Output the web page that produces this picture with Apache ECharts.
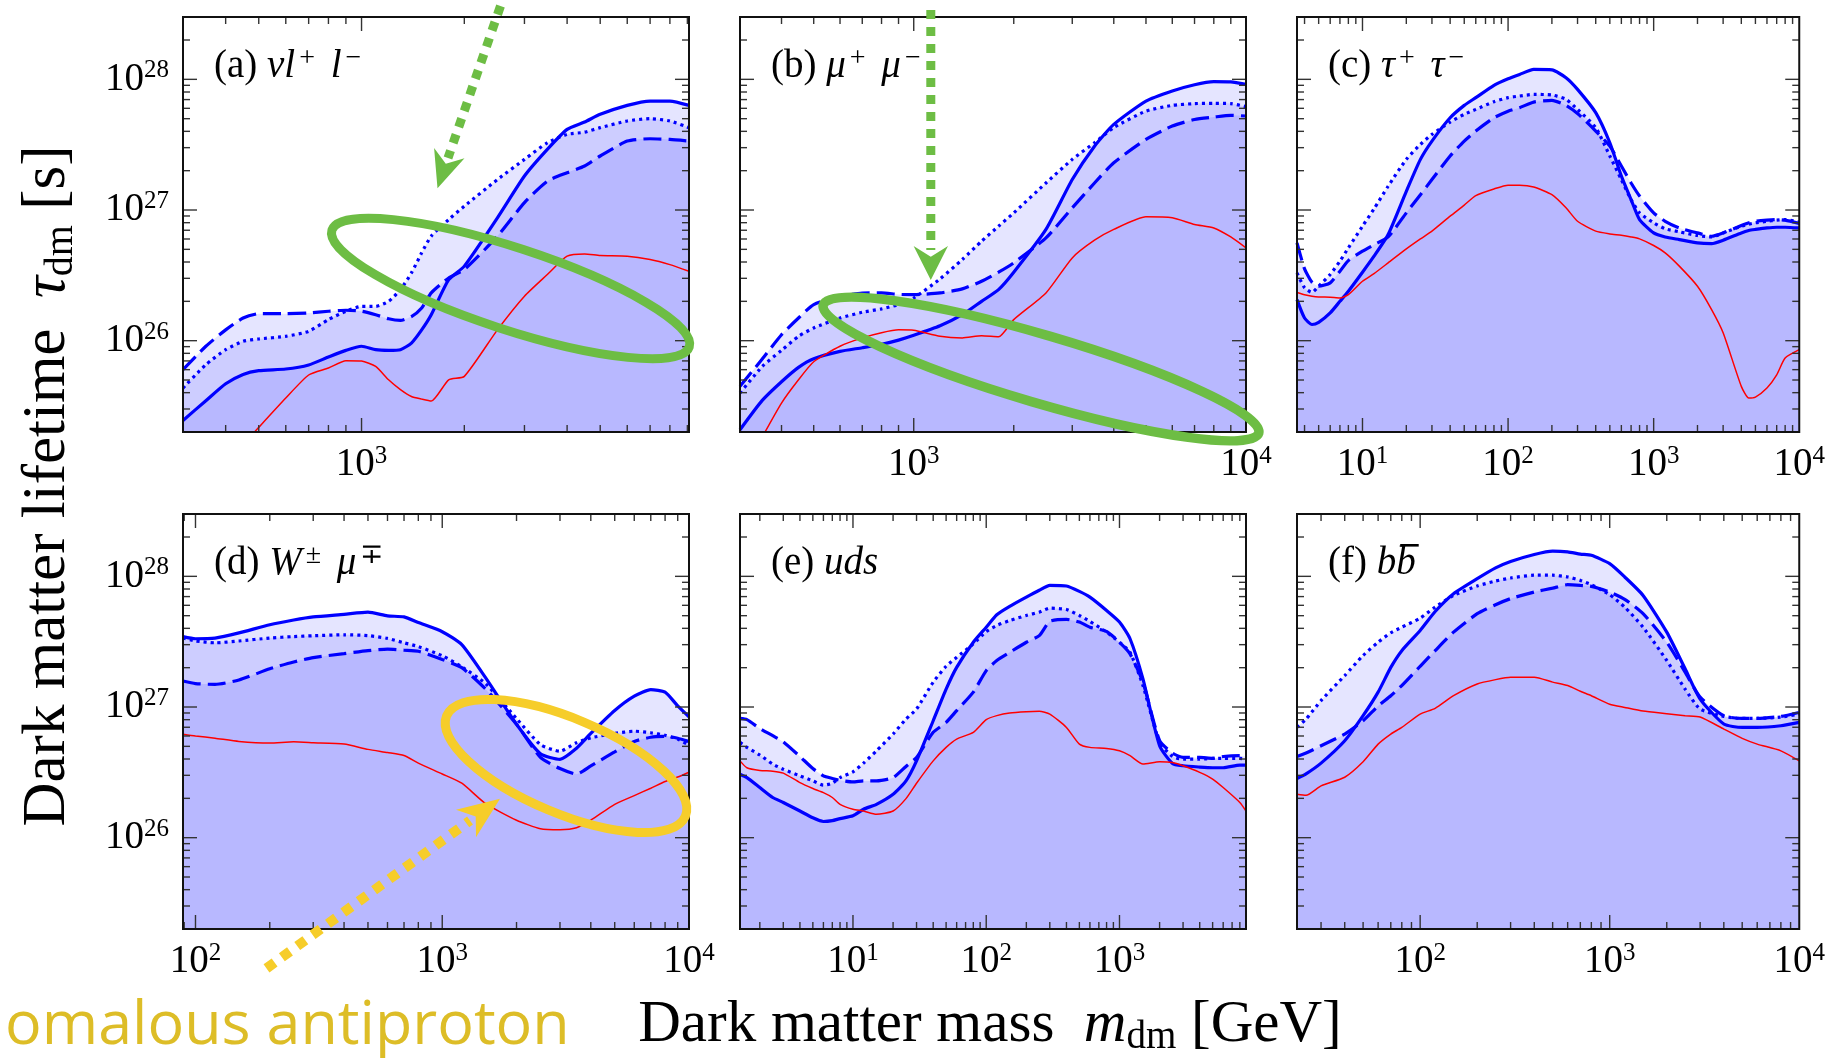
<!DOCTYPE html>
<html>
<head>
<meta charset="utf-8">
<title>Dark matter lifetime limits</title>
<script src="https://cdn.jsdelivr.net/npm/echarts@6.0.0/dist/echarts.min.js"></script>
<style>
html, body { margin: 0; padding: 0; background: #ffffff; }
#chart { width: 1828px; height: 1058px; }
</style>
</head>
<body>
<div id="chart"></div>
<script>
// Lower limits on the dark matter lifetime [s] versus dark matter mass [GeV].
// solid / dotted / dashed: three propagation set-ups, red: reference bound.

// (a) nu l+ l-
const massA   = [300, 350, 400, 450, 500, 600, 700, 800, 900, 1000, 1100, 1200, 1300, 1400, 1500, 1600, 1800, 2000, 2500, 3000, 3500, 4000, 4500, 5000, 6000, 7000, 8000, 9100];
const solidA  = [2.45e25, 3.47e25, 4.68e25, 5.52e25, 5.89e25, 6.07e25, 6.52e25, 7.50e25, 8.43e25, 9.06e25, 8.53e25, 8.43e25, 8.53e25, 9.59e25, 1.21e26, 1.58e26, 2.93e26, 3.72e26, 8.71e26, 1.82e27, 2.91e27, 4.14e27, 4.71e27, 5.40e27, 6.32e27, 6.82e27, 6.82e27, 6.32e27];
const dottedA = [4.34e25, 6.55e25, 8.53e25, 9.89e25, 1.03e26, 1.08e26, 1.18e26, 1.45e26, 1.68e26, 1.83e26, 1.83e26, 2.00e26, 2.46e26, 3.30e26, 4.70e26, 6.31e26, 8.45e26, 1.07e27, 1.71e27, 2.44e27, 3.27e27, 3.79e27, 3.94e27, 4.27e27, 4.80e27, 5.00e27, 4.80e27, 4.27e27];
const dashedA = [6.00e25, 9.06e25, 1.21e26, 1.49e26, 1.61e26, 1.61e26, 1.63e26, 1.68e26, 1.71e26, 1.68e26, 1.58e26, 1.47e26, 1.43e26, 1.53e26, 1.78e26, 2.32e26, 3.02e26, 3.50e26, 6.30e26, 1.14e27, 1.66e27, 1.93e27, 2.17e27, 2.59e27, 3.37e27, 3.51e27, 3.47e27, 3.37e27];
const redA    = [null, null, null, 1.60e25, 2.17e25, 3.64e25, 5.46e25, 6.17e25, 7.03e25, 6.98e25, 6.35e25, 5.02e25, 4.22e25, 3.74e25, 3.57e25, 3.45e25, 5.02e25, 5.33e25, 1.21e26, 2.19e26, 3.21e26, 4.43e26, 4.61e26, 4.48e26, 4.43e26, 4.18e26, 3.82e26, 3.40e26];

// (b) mu+ mu-
const massB   = [300, 350, 400, 450, 500, 600, 700, 800, 900, 1000, 1200, 1400, 1600, 1800, 2000, 2500, 3000, 3500, 4000, 5000, 6000, 7000, 8000, 9000, 10000];
const solidB  = [2.08e25, 3.49e25, 4.85e25, 6.25e25, 7.28e25, 8.28e25, 8.83e25, 9.38e25, 1.01e26, 1.10e26, 1.30e26, 1.58e26, 2.00e26, 2.46e26, 3.34e26, 7.10e26, 1.71e27, 3.08e27, 4.52e27, 6.82e27, 8.15e27, 9.10e27, 9.60e27, 9.55e27, 9.16e27];
const dottedB = [3.97e25, 6.35e25, 8.43e25, 1.08e26, 1.25e26, 1.49e26, 1.65e26, 1.75e26, 1.89e26, 2.12e26, 2.97e26, 4.18e26, 5.77e26, 7.52e26, 9.51e26, 1.61e27, 2.44e27, 3.27e27, 4.27e27, 5.71e27, 6.32e27, 6.52e27, 6.55e27, 6.52e27, 6.18e27];
const dashedB = [4.47e25, 7.24e25, 1.11e26, 1.49e26, 1.89e26, 2.19e26, 2.31e26, 2.32e26, 2.26e26, 2.25e26, 2.32e26, 2.49e26, 2.85e26, 3.34e26, 3.94e26, 6.12e26, 1.04e27, 1.61e27, 2.30e27, 3.47e27, 4.39e27, 4.93e27, 5.14e27, 5.30e27, 5.24e27];
const redB    = [null, 1.83e25, 3.33e25, 5.02e25, 6.90e25, 9.06e25, 1.05e26, 1.15e26, 1.21e26, 1.20e26, 1.08e26, 1.05e26, 1.09e26, 1.07e26, 1.45e26, 2.32e26, 4.30e26, 5.87e26, 7.10e26, 8.87e26, 8.71e26, 7.74e26, 7.29e26, 6.22e26, 5.13e26];

// (c) tau+ tau-
const massC   = [3.55, 4, 4.5, 5, 6, 7, 8, 10, 12, 15, 20, 25, 30, 40, 50, 60, 80, 100, 120, 150, 200, 250, 300, 400, 500, 600, 700, 800, 1000, 1200, 1500, 2000, 2500, 3000, 4000, 4500, 5000, 6000, 7000, 8000, 10000];
const solidC  = [2.06e26, 1.49e26, 1.33e26, 1.38e26, 1.63e26, 2.00e26, 2.39e26, 3.34e26, 4.43e26, 6.49e26, 1.39e27, 2.44e27, 3.37e27, 5.08e27, 6.32e27, 7.24e27, 9.00e27, 1.01e28, 1.09e28, 1.19e28, 1.18e28, 1.03e28, 8.38e27, 5.56e27, 3.27e27, 1.82e27, 1.20e27, 8.45e26, 6.68e26, 6.22e26, 5.94e26, 5.60e26, 5.53e26, 5.87e26, 6.68e26, 6.97e26, 7.10e26, 7.29e26, 7.38e26, 7.38e26, 7.29e26];
const dottedC = [3.30e26, 2.54e26, 2.34e26, 2.61e26, 3.21e26, 4.06e26, 5.13e26, 7.52e26, 1.02e27, 1.52e27, 2.44e27, 3.18e27, 3.79e27, 4.71e27, 5.40e27, 5.89e27, 6.75e27, 7.24e27, 7.45e27, 7.67e27, 7.59e27, 7.03e27, 5.89e27, 4.27e27, 2.59e27, 1.71e27, 1.20e27, 9.51e26, 7.98e26, 7.18e26, 6.81e26, 6.38e26, 6.22e26, 6.68e26, 7.52e26, 7.78e26, 7.98e26, 8.20e26, 8.36e26, 8.45e26, 8.07e26];
const dashedC = [5.60e26, 3.54e26, 2.80e26, 2.61e26, 2.77e26, 3.40e26, 4.10e26, 4.84e26, 5.42e26, 6.22e26, 9.51e26, 1.31e27, 1.71e27, 2.59e27, 3.37e27, 4.02e27, 5.08e27, 5.71e27, 6.07e27, 6.70e27, 6.90e27, 6.32e27, 5.48e27, 4.02e27, 3.08e27, 2.17e27, 1.61e27, 1.28e27, 9.51e26, 8.20e26, 7.29e26, 6.68e26, 6.30e26, 6.68e26, 7.60e26, 7.98e26, 8.20e26, 8.36e26, 8.45e26, 8.36e26, 7.89e26];
const redC    = [2.34e26, 2.25e26, 2.19e26, 2.16e26, 2.15e26, 2.12e26, 2.25e26, 2.85e26, 3.26e26, 3.94e26, 5.04e26, 6.01e26, 6.89e26, 8.97e26, 1.09e27, 1.29e27, 1.45e27, 1.55e27, 1.55e27, 1.50e27, 1.31e27, 1.04e27, 8.20e26, 6.89e26, 6.56e26, 6.41e26, 6.22e26, 6.01e26, 5.35e26, 4.70e26, 3.72e26, 2.61e26, 1.73e26, 1.15e26, 4.47e25, 3.64e25, 3.70e25, 4.34e25, 5.48e25, 7.36e25, 8.53e25];

// (d) W+- mu-+
const massD   = [89, 100, 120, 150, 200, 250, 300, 400, 500, 600, 700, 800, 1000, 1200, 1500, 2000, 2500, 3000, 3500, 4000, 5000, 6000, 7000, 8000, 9000, 10000];
const solidD  = [3.46e27, 3.33e27, 3.37e27, 3.69e27, 4.26e27, 4.63e27, 4.89e27, 5.12e27, 5.32e27, 4.98e27, 4.89e27, 4.43e27, 3.77e27, 3.00e27, 1.67e27, 7.38e26, 4.39e26, 3.98e26, 4.84e26, 6.28e26, 9.40e26, 1.21e27, 1.36e27, 1.30e27, 1.02e27, 8.41e26];
const dottedD = [3.37e27, 3.20e27, 3.10e27, 3.20e27, 3.37e27, 3.46e27, 3.51e27, 3.57e27, 3.52e27, 3.35e27, 3.10e27, 2.90e27, 2.47e27, 2.03e27, 1.51e27, 8.15e26, 5.16e26, 4.59e26, 5.33e26, 5.81e26, 6.28e26, 6.53e26, 6.35e26, 6.08e26, 5.69e26, 5.09e26];
const dashedD = [1.58e27, 1.51e27, 1.49e27, 1.61e27, 1.96e27, 2.21e27, 2.39e27, 2.56e27, 2.70e27, 2.77e27, 2.72e27, 2.67e27, 2.31e27, 2.00e27, 1.37e27, 7.38e26, 4.11e26, 3.38e26, 3.07e26, 3.54e26, 4.53e26, 5.45e26, 5.87e26, 5.96e26, 5.77e26, 5.45e26];
const redD    = [6.19e26, 6.00e26, 5.77e26, 5.45e26, 5.30e26, 5.41e26, 5.33e26, 5.20e26, 4.74e26, 4.48e26, 4.25e26, 3.72e26, 3.07e26, 2.61e26, 1.82e26, 1.36e26, 1.17e26, 1.15e26, 1.19e26, 1.36e26, 1.80e26, 2.10e26, 2.39e26, 2.69e26, 2.91e26, 3.17e26];

// (e) uds
const massE   = [1.42, 1.6, 2, 2.5, 3, 4, 5, 6, 7, 8, 10, 12, 15, 20, 25, 30, 40, 50, 60, 80, 100, 120, 150, 200, 250, 300, 400, 500, 600, 800, 1000, 1200, 1500, 2000, 2500, 3000, 4000, 5000, 6000, 8000, 8900];
const solidE  = [3.06e26, 2.88e26, 2.42e26, 2.03e26, 1.86e26, 1.60e26, 1.42e26, 1.33e26, 1.35e26, 1.40e26, 1.47e26, 1.65e26, 1.80e26, 2.15e26, 2.72e26, 3.87e26, 7.85e26, 1.37e27, 2.01e27, 3.13e27, 4.08e27, 5.08e27, 5.89e27, 6.93e27, 7.82e27, 8.53e27, 8.43e27, 7.67e27, 6.93e27, 5.48e27, 4.47e27, 3.33e27, 1.64e27, 5.05e26, 3.70e26, 3.55e26, 3.47e26, 3.43e26, 3.43e26, 3.59e26, 3.59e26];
const dottedE = [5.36e26, 4.91e26, 4.29e26, 3.66e26, 3.34e26, 2.97e26, 2.72e26, 2.52e26, 2.61e26, 2.88e26, 3.19e26, 3.72e26, 4.62e26, 6.21e26, 8.09e26, 9.66e26, 1.55e27, 2.05e27, 2.40e27, 3.04e27, 3.78e27, 4.21e27, 4.59e27, 5.02e27, 5.32e27, 5.71e27, 5.58e27, 5.02e27, 4.52e27, 3.74e27, 3.13e27, 2.62e27, 1.46e27, 5.36e26, 4.18e26, 3.99e26, 3.99e26, 4.04e26, 4.04e26, 4.04e26, 3.99e26];
const dashedE = [8.18e26, 8.00e26, 6.86e26, 6.03e26, 5.42e26, 4.18e26, 3.38e26, 2.97e26, 2.84e26, 2.75e26, 2.67e26, 2.72e26, 2.72e26, 2.88e26, 3.51e26, 4.11e26, 6.40e26, 7.62e26, 9.38e26, 1.30e27, 1.90e27, 2.27e27, 2.62e27, 3.13e27, 3.52e27, 4.52e27, 4.68e27, 4.47e27, 4.08e27, 3.78e27, 3.13e27, 2.55e27, 1.55e27, 5.52e26, 4.44e26, 4.11e26, 4.11e26, 4.04e26, 4.18e26, 4.24e26, 4.18e26];
const redE    = [3.87e26, 3.43e26, 3.27e26, 3.23e26, 3.12e26, 2.64e26, 2.38e26, 2.21e26, 2.03e26, 1.80e26, 1.65e26, 1.60e26, 1.51e26, 1.60e26, 1.99e26, 2.61e26, 3.87e26, 4.91e26, 5.68e26, 6.40e26, 8.00e26, 8.59e26, 9.00e26, 9.20e26, 9.27e26, 8.83e26, 6.98e26, 5.20e26, 4.91e26, 4.82e26, 4.62e26, 4.24e26, 3.66e26, 3.81e26, 3.76e26, 3.55e26, 3.16e26, 2.81e26, 2.42e26, 1.86e26, 1.60e26];

// (f) b bbar
const massF   = [22.4, 25, 30, 40, 50, 60, 70, 80, 100, 120, 150, 200, 250, 300, 400, 500, 600, 700, 800, 1000, 1200, 1500, 2000, 2500, 3000, 4000, 5000, 6000, 8000, 10000];
const solidF  = [2.84e26, 3.08e26, 3.72e26, 5.52e26, 8.59e26, 1.30e27, 2.01e27, 2.70e27, 3.85e27, 5.38e27, 7.36e27, 9.59e27, 1.16e28, 1.30e28, 1.47e28, 1.56e28, 1.54e28, 1.48e28, 1.45e28, 1.25e28, 9.89e27, 7.14e27, 3.74e27, 1.96e27, 1.15e27, 7.41e26, 6.98e26, 6.98e26, 7.19e26, 7.62e26];
const dottedF = [7.00e26, 8.09e26, 1.12e27, 1.74e27, 2.48e27, 3.13e27, 3.70e27, 4.08e27, 4.79e27, 5.82e27, 7.14e27, 8.43e27, 9.21e27, 9.71e27, 1.02e28, 1.02e28, 9.89e27, 9.31e27, 8.63e27, 7.23e27, 5.82e27, 4.08e27, 2.27e27, 1.37e27, 9.66e26, 8.47e26, 8.18e26, 8.18e26, 8.38e26, 8.83e26];
const dashedF = [4.18e26, 4.44e26, 5.05e26, 6.21e26, 7.85e26, 1.02e27, 1.22e27, 1.46e27, 2.05e27, 2.70e27, 3.74e27, 5.18e27, 6.07e27, 6.75e27, 7.59e27, 8.13e27, 8.63e27, 8.53e27, 8.38e27, 7.59e27, 6.67e27, 5.18e27, 3.13e27, 1.85e27, 1.19e27, 8.57e26, 8.18e26, 8.18e26, 8.47e26, 9.10e26];
const redF    = [2.15e26, 2.11e26, 2.49e26, 2.90e26, 3.81e26, 5.20e26, 6.21e26, 6.98e26, 8.83e26, 9.77e26, 1.22e27, 1.50e27, 1.62e27, 1.69e27, 1.69e27, 1.55e27, 1.46e27, 1.32e27, 1.22e27, 1.05e27, 9.93e26, 9.31e26, 8.89e26, 8.57e26, 8.38e26, 6.78e26, 5.75e26, 5.20e26, 4.62e26, 3.87e26];

// tick labels (powers of ten)
const xTickLabelsA = [1e3];
const xTickLabelsB = [1e3, 1e4];
const xTickLabelsC = [1e1, 1e2, 1e3, 1e4];
const xTickLabelsD = [1e2, 1e3, 1e4];
const xTickLabelsE = [1e1, 1e2, 1e3];
const xTickLabelsF = [1e2, 1e3, 1e4];
const yTickLabels  = [1e26, 1e27, 1e28];

const Y_MIN = 2e25, Y_MAX = 3e28;
const PANEL_W = 506, PANEL_H = 415;
const SERIF = 'Liberation Serif';

const panels = [
  { left: 183,  top: 17,  xMin: 300,  xMax: 9100,  xLabels: xTickLabelsA, showY: true,
    mass: massA, solid: solidA, dotted: dottedA, dashed: dashedA, red: redA,
    label: '{n|(a) }{i|νl}{p|+}{i| l}{p|−}' },
  { left: 740,  top: 17,  xMin: 300,  xMax: 10000, xLabels: xTickLabelsB, showY: false,
    mass: massB, solid: solidB, dotted: dottedB, dashed: dashedB, red: redB,
    label: '{n|(b) }{i|μ}{p|+}{i| μ}{p|−}' },
  { left: 1297, top: 17,  xMin: 3.55, xMax: 10000, xLabels: xTickLabelsC, showY: false,
    mass: massC, solid: solidC, dotted: dottedC, dashed: dashedC, red: redC,
    label: '{n|(c) }{i|τ}{p|+}{i| τ}{p|−}' },
  { left: 183,  top: 514, xMin: 89,   xMax: 10000, xLabels: xTickLabelsD, showY: true,
    mass: massD, solid: solidD, dotted: dottedD, dashed: dashedD, red: redD,
    label: '{n|(d) }{i|W}{p|±}{i| μ}{p|∓}' },
  { left: 740,  top: 514, xMin: 1.42, xMax: 8900,  xLabels: xTickLabelsE, showY: false,
    mass: massE, solid: solidE, dotted: dottedE, dashed: dashedE, red: redE,
    label: '{n|(e) }{i|uds}' },
  { left: 1297, top: 514, xMin: 22.4, xMax: 10000, xLabels: xTickLabelsF, showY: false,
    mass: massF, solid: solidF, dotted: dottedF, dashed: dashedF, red: redF,
    label: '{n|(f) }{i|bb}' }
];

function powLabel(v) {
  const e = Math.log10(v);
  const r = Math.round(e);
  if (Math.abs(e - r) > 1e-6) return '';
  return '{b|10}{s|' + r + '}';
}
const labelRich = {
  b: { fontFamily: SERIF, fontSize: 39, color: '#000', lineHeight: 42 },
  s: { fontFamily: SERIF, fontSize: 25, color: '#000', verticalAlign: 'top', lineHeight: 10 }
};

// tick positions 1..9 x 10^n inside an axis range
function logTicks(min, max) {
  const out = [];
  for (let e = Math.floor(Math.log10(min)); e <= Math.ceil(Math.log10(max)); e++) {
    for (let k = 1; k <= 9; k++) {
      const v = k * Math.pow(10, e);
      if (v > min * 1.002 && v < max * 0.998) out.push({ v: v, major: k === 1 ? 1 : 0 });
    }
  }
  return out;
}

const TICK_COLOR = '#333';
const grids = [], xAxes = [], yAxes = [], series = [];

panels.forEach(function (p, i) {
  grids.push({ left: p.left, top: p.top, width: PANEL_W, height: PANEL_H, containLabel: false, show: false });
  xAxes.push({
    type: 'log', logBase: 10, gridIndex: i, min: p.xMin, max: p.xMax,
    axisLine: { show: false }, axisTick: { show: false }, splitLine: { show: false },
    axisLabel: { show: true, customValues: p.xLabels, formatter: powLabel, rich: labelRich, margin: 12, hideOverlap: false }
  });
  yAxes.push({
    type: 'log', logBase: 10, gridIndex: i, min: Y_MIN, max: Y_MAX,
    axisLine: { show: false }, axisTick: { show: false }, splitLine: { show: false },
    axisLabel: { show: p.showY, customValues: yTickLabels, formatter: powLabel, rich: labelRich, margin: 14, hideOverlap: false }
  });

  const pairs = function (vals) { return p.mass.map(function (m, k) { return [m, vals[k]]; }); };
  const blue = function (name, vals, dash) {
    return {
      type: 'line', name: name, xAxisIndex: i, yAxisIndex: i, data: pairs(vals),
      symbol: 'none', smooth: 0.2, clip: true, animation: false, silent: true, z: 2,
      lineStyle: { color: '#0000ff', width: 3.2, type: dash, cap: 'butt' },
      areaStyle: { color: 'rgba(0,0,255,0.1)', opacity: 1, origin: 'start' }
    };
  };
  series.push(blue('solid', p.solid, 'solid'));
  series.push(blue('dotted', p.dotted, [3, 4]));
  series.push(blue('dashed', p.dashed, [18, 7]));
  series.push({
    type: 'line', name: 'reference', xAxisIndex: i, yAxisIndex: i, data: pairs(p.red),
    symbol: 'none', smooth: 0.2, clip: true, animation: false, silent: true, z: 3,
    lineStyle: { color: '#ff0000', width: 1.5 }
  });

  // mass ticks on bottom and top edges
  series.push({
    type: 'custom', xAxisIndex: i, yAxisIndex: i, z: 20, silent: true, animation: false,
    encode: { x: 0, y: 1 },
    data: logTicks(p.xMin, p.xMax).map(function (t) { return [t.v, Y_MIN, t.major]; }),
    renderItem: function (params, api) {
      const v = api.value(0), len = api.value(2) ? 14 : 7;
      const b = api.coord([v, Y_MIN]), t = api.coord([v, Y_MAX]);
      const st = { stroke: TICK_COLOR, lineWidth: 1.4 };
      return { type: 'group', children: [
        { type: 'line', shape: { x1: b[0], y1: b[1], x2: b[0], y2: b[1] - len }, style: st },
        { type: 'line', shape: { x1: t[0], y1: t[1], x2: t[0], y2: t[1] + len }, style: st }
      ] };
    }
  });
  // lifetime ticks on left and right edges
  series.push({
    type: 'custom', xAxisIndex: i, yAxisIndex: i, z: 20, silent: true, animation: false,
    encode: { x: 0, y: 1 },
    data: logTicks(Y_MIN, Y_MAX).map(function (t) { return [p.xMin, t.v, t.major]; }),
    renderItem: function (params, api) {
      const v = api.value(1), len = api.value(2) ? 14 : 7;
      const l = api.coord([p.xMin, v]), r = api.coord([p.xMax, v]);
      const st = { stroke: TICK_COLOR, lineWidth: 1.4 };
      return { type: 'group', children: [
        { type: 'line', shape: { x1: l[0], y1: l[1], x2: l[0] + len, y2: l[1] }, style: st },
        { type: 'line', shape: { x1: r[0], y1: r[1], x2: r[0] - len, y2: r[1] }, style: st }
      ] };
    }
  });
  // panel frame
  series.push({
    type: 'custom', xAxisIndex: i, yAxisIndex: i, z: 21, silent: true, animation: false,
    encode: { x: 0, y: 1 },
    data: [[p.xMin, Y_MIN]],
    renderItem: function (params, api) {
      const a = api.coord([p.xMin, Y_MAX]), c = api.coord([p.xMax, Y_MIN]);
      return { type: 'rect', shape: { x: a[0], y: a[1], width: c[0] - a[0], height: c[1] - a[1] },
               style: { fill: 'none', stroke: '#111', lineWidth: 2 } };
    }
  });
});

// ---- text and annotations ----
const CHAN_SIZE = 39;
const chanRich = {
  n: { fontFamily: SERIF, fontSize: CHAN_SIZE, fill: '#000', lineHeight: 44 },
  i: { fontFamily: SERIF, fontStyle: 'italic', fontSize: CHAN_SIZE, fill: '#000', lineHeight: 44 },
  p: { fontFamily: SERIF, fontSize: 28, fill: '#000', verticalAlign: 'top', lineHeight: 18, padding: [0, 6, 0, 4] }
};
const graphics = [];
panels.forEach(function (p) {
  graphics.push({
    type: 'text', x: p.left + 31, y: p.top + 50, z: 50, silent: true,
    style: { text: p.label, rich: chanRich, align: 'left', verticalAlign: 'middle',
             textAlign: 'left', textVerticalAlign: 'middle' }
  });
});
// bar over the second b in (f)
(function () {
  const ctx = document.createElement('canvas').getContext('2d');
  ctx.font = CHAN_SIZE + 'px "' + SERIF + '"';
  const w1 = ctx.measureText('(f) ').width;
  ctx.font = 'italic ' + CHAN_SIZE + 'px "' + SERIF + '"';
  const wb = ctx.measureText('b').width;
  const p = panels[5];
  const x0 = p.left + 31 + w1 + wb;
  graphics.push({ type: 'rect', z: 50, silent: true,
    shape: { x: x0 + 4, y: p.top + 30, width: wb - 1, height: 2.6 }, style: { fill: '#000' } });
})();

const axisTitleRich = {
  t: { fontFamily: SERIF, fontSize: 59, fill: '#000', lineHeight: 64 },
  i: { fontFamily: SERIF, fontStyle: 'italic', fontSize: 59, fill: '#000', lineHeight: 64 },
  d: { fontFamily: SERIF, fontSize: 39, fill: '#000', verticalAlign: 'bottom', lineHeight: 30 }
};
const yTitleRich = {
  t: { fontFamily: SERIF, fontSize: 61, fill: '#000', lineHeight: 66 },
  i: { fontFamily: SERIF, fontStyle: 'italic', fontSize: 61, fill: '#000', lineHeight: 66 },
  d: { fontFamily: SERIF, fontSize: 40, fill: '#000', verticalAlign: 'bottom', lineHeight: 31 }
};
graphics.push({
  type: 'text', x: 48, y: 486, rotation: Math.PI / 2, z: 50, silent: true,
  style: { text: '{t|Dark matter lifetime  }{i|τ}{d|dm}{t| [s]}', rich: yTitleRich,
           align: 'center', verticalAlign: 'middle', textAlign: 'center', textVerticalAlign: 'middle' }
});
graphics.push({
  type: 'text', x: 990, y: 1025, z: 50, silent: true,
  style: { text: '{t|Dark matter mass  }{i|m}{d|dm}{t| [GeV]}', rich: axisTitleRich,
           align: 'center', verticalAlign: 'middle', textAlign: 'center', textVerticalAlign: 'middle' }
});

const GREEN = '#6dbd44', YELLOW = '#f6cd2a', YELLOW_TEXT = '#ddbd27';
function dottedArrow(color, width, dash, from, to, tip, c1, notch, c2) {
  return [
    { type: 'line', z: 60, silent: true, shape: { x1: from[0], y1: from[1], x2: to[0], y2: to[1] },
      style: { stroke: color, lineWidth: width, lineDash: dash, lineCap: 'butt' } },
    { type: 'polygon', z: 60, silent: true, shape: { points: [tip, c1, notch, c2] }, style: { fill: color } }
  ];
}
// green ellipses and arrows
graphics.push({ type: 'ellipse', x: 510.6, y: 288.5, rotation: -0.316, z: 60, silent: true,
  shape: { cx: 0, cy: 0, rx: 188, ry: 41 }, style: { fill: 'none', stroke: GREEN, lineWidth: 9 } });
graphics.push({ type: 'ellipse', x: 1041, y: 369, rotation: -0.286, z: 60, silent: true,
  shape: { cx: 0, cy: 0, rx: 227, ry: 34 }, style: { fill: 'none', stroke: GREEN, lineWidth: 9.5 } });
Array.prototype.push.apply(graphics, dottedArrow(GREEN, 9, [9, 8],
  [500.5, 6], [448, 158], [437.5, 188.3], [464.5, 158.3], [445.8, 163.7], [434.1, 148.1]));
Array.prototype.push.apply(graphics, dottedArrow(GREEN, 9, [9, 8],
  [930.8, 10], [930.8, 250], [930.8, 280], [948, 246], [930.8, 256.7], [913.6, 246]));
// yellow ellipse, arrow and caption
graphics.push({ type: 'ellipse', x: 566, y: 766, rotation: -0.398, z: 60, silent: true,
  shape: { cx: 0, cy: 0, rx: 129.5, ry: 47.4 }, style: { fill: 'none', stroke: YELLOW, lineWidth: 9 } });
Array.prototype.push.apply(graphics, dottedArrow(YELLOW, 10, [10, 9],
  [266.5, 968.4], [470, 820.5], [500, 798.8], [476, 837.3], [475.7, 816.4], [456, 809.7]));
graphics.push({
  type: 'text', x: 5, y: 1027, z: 60, silent: true,
  style: { text: 'omalous antiproton', fontFamily: 'Open Sans', fontSize: 61, fill: YELLOW_TEXT,
           align: 'left', verticalAlign: 'middle', textAlign: 'left', textVerticalAlign: 'middle' }
});

const chart = echarts.init(document.getElementById('chart'), null, { renderer: 'canvas' });
chart.setOption({
  backgroundColor: '#ffffff',
  animation: false,
  grid: grids,
  xAxis: xAxes,
  yAxis: yAxes,
  series: series,
  graphic: { elements: graphics }
});
</script>
</body>
</html>
